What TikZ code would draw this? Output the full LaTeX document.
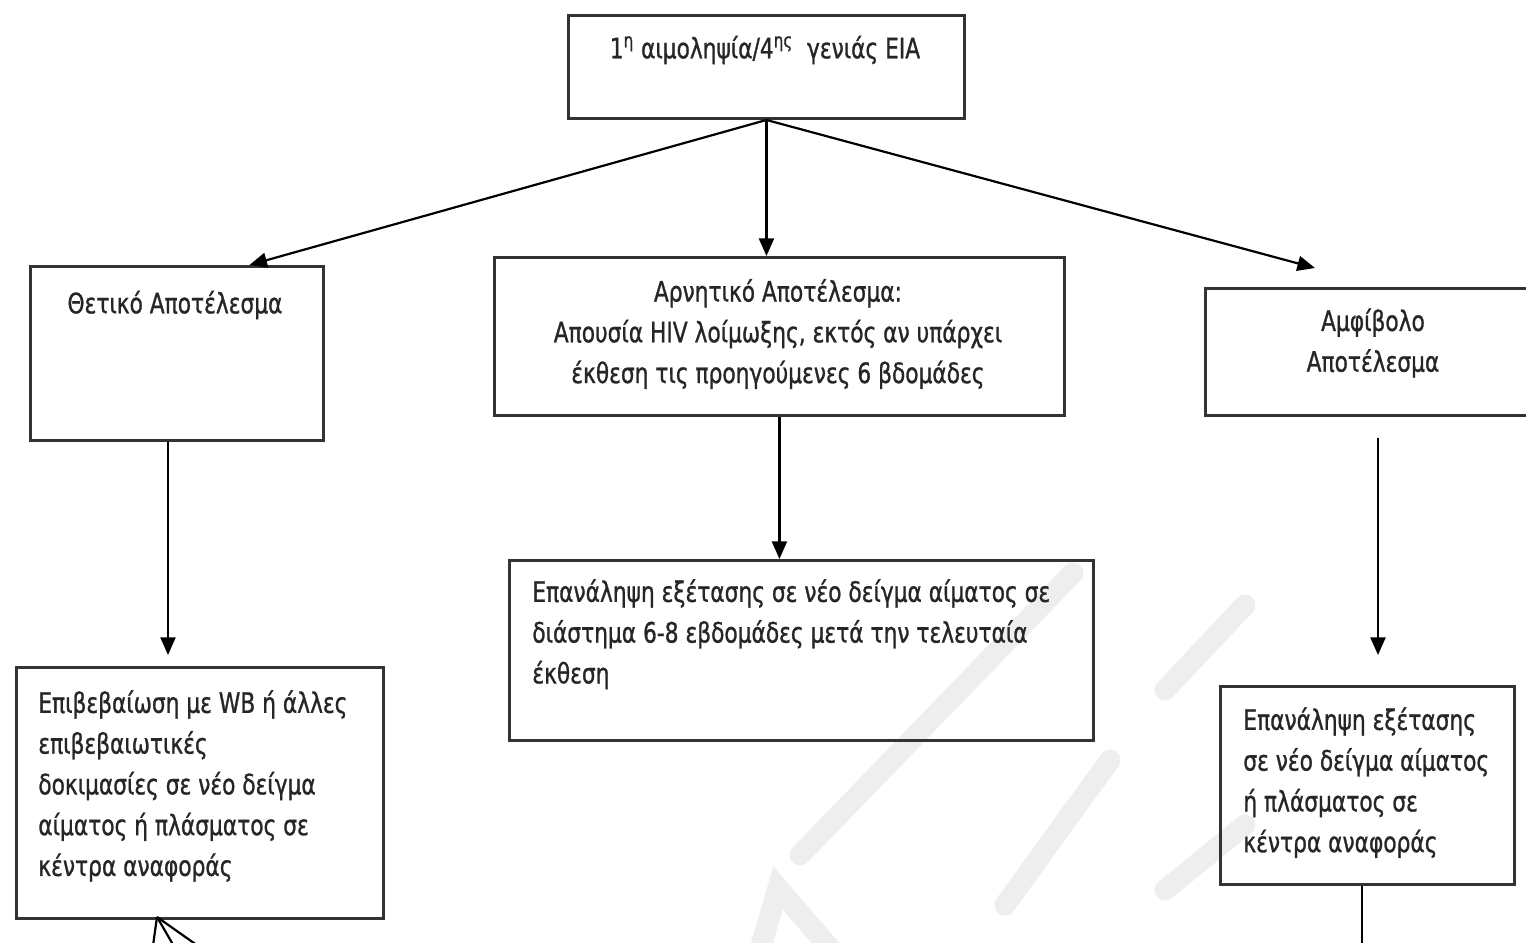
\documentclass[tikz,border=0pt]{standalone}
\usepackage{fontspec}
\setmainfont{DejaVu Sans Condensed}[FakeStretch=0.86, FakeBold=1]
\usetikzlibrary{arrows.meta}

\begin{document}
\begin{tikzpicture}[x=0.02cm, y=-0.02cm,
    every node/.style={font=\fontsize{16}{23.2}\selectfont, text=black!85},
    box/.style={draw=black!80, line width=1.7pt, inner sep=0pt, anchor=north west},
    txt/.style={inner sep=0pt},
    arr/.style={line width=1.25pt, -{Triangle[length=10pt, width=8.5pt]}},
    wmark/.style={line width=12pt, gray!13, line cap=round}]
    \clip (0,0) rectangle (1526,943);

    % watermark
    \draw[wmark] (757,960) -- (778,888) -- (840,960);
    \draw[wmark] (800,855) -- (1073,573);
    \draw[wmark] (1005,905) -- (1110,760);
    \draw[wmark] (1165,890) -- (1245,825);
    \draw[wmark] (1165,690) -- (1245,605);

    % boxes
    \node[box, minimum width=7.92cm, minimum height=2.06cm] (top) at (567,14) {};
    \node[box, minimum width=5.86cm, minimum height=3.48cm] (pos) at (29,265) {};
    \node[box, minimum width=11.4cm, minimum height=3.16cm] (neg) at (493,256) {};
    \node[box, minimum width=6.76cm, minimum height=2.54cm] (amb) at (1204,287) {};
    \node[box, minimum width=7.34cm, minimum height=5.02cm] (conf) at (15,666) {};
    \node[box, minimum width=11.68cm, minimum height=3.6cm] (rep) at (508,559) {};
    \node[box, minimum width=5.88cm, minimum height=3.96cm] (rep2) at (1219,685) {};

    % texts
    \node[txt] (toptxt) at (765,50) {1\textsuperscript{η} αιμοληψία/4\textsuperscript{ης}\ \ γενιάς EIA};
    \node[txt] (postxt) at (175,305) {Θετικό Αποτέλεσμα};
    \node[txt, align=center] (negtxt) at (778,334) {Αρνητικό Αποτέλεσμα:\\Απουσία HIV λοίμωξης, εκτός αν υπάρχει\\έκθεση τις προηγούμενες 6 βδομάδες};
    \node[txt, align=center] (ambtxt) at (1373,343) {Αμφίβολο\\Αποτέλεσμα};
    \node[txt, align=left, anchor=north west] (conftxt) at (38,690) {Επιβεβαίωση με WB ή άλλες\\επιβεβαιωτικές\\δοκιμασίες σε νέο δείγμα\\αίματος ή πλάσματος σε\\κέντρα αναφοράς};
    \node[txt, align=left, anchor=north west] (reptxt) at (532,579) {Επανάληψη εξέτασης σε νέο δείγμα αίματος σε\\διάστημα 6-8 εβδομάδες μετά την τελευταία\\έκθεση};
    \node[txt, align=left, anchor=north west] (rep2txt) at (1243,707) {Επανάληψη εξέτασης\\σε νέο δείγμα αίματος\\ή πλάσματος σε\\κέντρα αναφοράς};

    % free ends
    \coordinate (ambin) at (1315,268);
    \coordinate (confin) at (168,655);
    \coordinate (ambout) at (1378,438);
    \coordinate (rep2in) at (1378,655);
    \coordinate (rep2out) at (1362,960);
    \coordinate (tip) at (157,917);

    % connectors
    \draw[arr] (top.south) -- ([xshift=1.45cm]pos.north);
    \draw[arr] (top.south) -- (top.south |- neg.north);
    \draw[arr] (top.south) -- (ambin);
    \draw[arr] (pos.south -| confin) -- (confin);
    \draw[arr] (neg.south) -- (neg.south |- rep.north);
    \draw[arr] (ambout) -- (rep2in);
    \draw[line width=1.25pt] (rep2.south -| rep2out) -- (rep2out);
    \draw[line width=1.25pt] (tip) -- (151,960);
    \draw[line width=1.25pt] (tip) -- (182,960);
    \draw[line width=1.25pt] (tip) -- (218,960);
\end{tikzpicture}
\end{document}
